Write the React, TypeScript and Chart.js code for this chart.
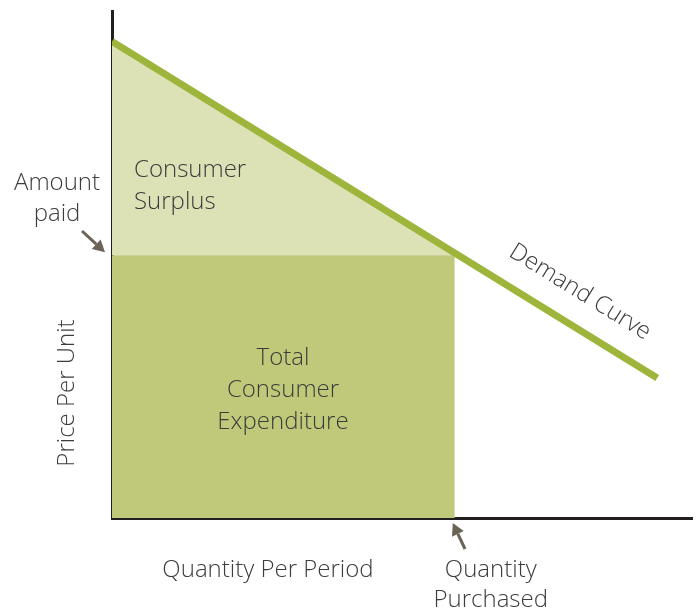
import React, { useEffect, useRef } from "react";
import { Chart, registerables } from "chart.js";

Chart.register(...registerables);

// Demand curve endpoints (quantity, price)
const demandQuantity = [0, 94];
const demandPrice = [94, 27.6];
// Market outcome
const quantityPurchased = 59.1;
const amountPaid = 51.8;
// Axis range
const axisMax = [100, 100];

const FONT = '"Open Sans", "DejaVu Sans", sans-serif';
const TEXT = "#3c3c3c";
const ARROW = "#6b6356";

function priceAt(q: number) {
  const [q0, q1] = demandQuantity;
  const [p0, p1] = demandPrice;
  return p0 + ((p1 - p0) * (q - q0)) / (q1 - q0);
}

function arrow(ctx: CanvasRenderingContext2D, x0: number, y0: number, x1: number, y1: number) {
  const ang = Math.atan2(y1 - y0, x1 - x0);
  const head = 12;
  const hw = 6.5;
  const bx = x1 - head * Math.cos(ang);
  const by = y1 - head * Math.sin(ang);
  ctx.save();
  ctx.strokeStyle = ARROW;
  ctx.fillStyle = ARROW;
  ctx.lineWidth = 3;
  ctx.beginPath();
  ctx.moveTo(x0, y0);
  ctx.lineTo(bx, by);
  ctx.stroke();
  ctx.beginPath();
  ctx.moveTo(x1, y1);
  ctx.lineTo(bx + hw * Math.sin(ang), by - hw * Math.cos(ang));
  ctx.lineTo(bx - hw * Math.sin(ang), by + hw * Math.cos(ang));
  ctx.closePath();
  ctx.fill();
  ctx.restore();
}

const labelsPlugin = {
  id: "labels",
  afterDraw(chart: any) {
    const ctx: CanvasRenderingContext2D = chart.ctx;
    const xs = chart.scales.x;
    const ys = chart.scales.y;
    ctx.save();
    ctx.fillStyle = TEXT;
    ctx.font = `300 24px ${FONT}`;
    ctx.textBaseline = "alphabetic";

    // Consumer surplus
    ctx.textAlign = "left";
    ctx.fillText("Consumer", 134, 177);
    ctx.fillText("Surplus", 134, 209);

    // Total consumer expenditure
    ctx.textAlign = "center";
    ctx.fillText("Total", 283, 365);
    ctx.fillText("Consumer", 283, 397);
    ctx.fillText("Expenditure", 283, 429);

    // Amount paid
    ctx.fillText("Amount", 57, 190);
    ctx.fillText("paid", 57, 221);
    const py = ys.getPixelForValue(amountPaid);
    arrow(ctx, 82, 231, 105, py - 3);

    // Quantity purchased
    const qx = xs.getPixelForValue(quantityPurchased);
    ctx.fillText("Quantity", qx + 36, 577);
    ctx.fillText("Purchased", qx + 36, 607);
    arrow(ctx, 465, 549, qx - 2, ys.bottom + 5);

    // Axis titles
    ctx.fillText("Quantity Per Period", 268, 577);
    ctx.save();
    ctx.translate(67, 393);
    ctx.rotate(-Math.PI / 2);
    ctx.textBaseline = "middle";
    ctx.fillText("Price Per Unit", 0, 0);
    ctx.restore();

    // Demand curve label
    const x0 = xs.getPixelForValue(demandQuantity[0]);
    const y0 = ys.getPixelForValue(demandPrice[0]);
    const x1 = xs.getPixelForValue(demandQuantity[1]);
    const y1 = ys.getPixelForValue(demandPrice[1]);
    const ang = Math.atan2(y1 - y0, x1 - x0);
    ctx.save();
    ctx.translate(580, 292);
    ctx.rotate(ang);
    ctx.textBaseline = "middle";
    ctx.fillText("Demand Curve", 0, 0);
    ctx.restore();

    ctx.restore();
  },
};

export default function App() {
  const ref = useRef<HTMLCanvasElement>(null);
  useEffect(() => {
    if (!ref.current) return;
    const chart = new Chart(ref.current, {
      type: "line",
      data: {
        datasets: [
          {
            label: "Demand",
            data: demandQuantity.map((q, i) => ({ x: q, y: demandPrice[i] })),
            borderColor: "#9db53a",
            borderWidth: 7,
            pointRadius: 0,
            fill: false,
            order: 0,
          },
          {
            label: "Consumer Surplus",
            data: [
              { x: demandQuantity[0], y: demandPrice[0] },
              { x: quantityPurchased, y: priceAt(quantityPurchased) },
            ],
            borderWidth: 0,
            borderColor: "rgba(0,0,0,0)",
            backgroundColor: "#dce1b6",
            pointRadius: 0,
            fill: { value: amountPaid },
            order: 2,
          },
          {
            label: "Total Consumer Expenditure",
            data: [
              { x: 0, y: amountPaid },
              { x: quantityPurchased, y: amountPaid },
            ],
            borderWidth: 0,
            borderColor: "rgba(0,0,0,0)",
            backgroundColor: "#c0c879",
            pointRadius: 0,
            fill: "origin",
            order: 1,
          },
        ],
      },
      options: {
        animation: false,
        responsive: true,
        maintainAspectRatio: false,
        layout: { padding: { left: 112, right: 8, top: 11, bottom: 92 } },
        plugins: { legend: { display: false }, tooltip: { enabled: false } },
        scales: {
          x: {
            type: "linear",
            min: 0,
            max: axisMax[0],
            z: 1,
            ticks: { display: false },
            grid: { display: false, drawTicks: false },
            border: { display: true, color: "#231f20", width: 3 },
          },
          y: {
            type: "linear",
            min: 0,
            max: axisMax[1],
            z: 1,
            ticks: { display: false },
            grid: { display: false, drawTicks: false },
            border: { display: true, color: "#231f20", width: 3 },
          },
        },
      },
      plugins: [labelsPlugin],
    });
    return () => chart.destroy();
  }, []);
  return (
    <div style={{ position: "absolute", left: 0, top: 0, width: 700, height: 610, background: "#fff" }}>
      <canvas ref={ref} />
    </div>
  );
}
